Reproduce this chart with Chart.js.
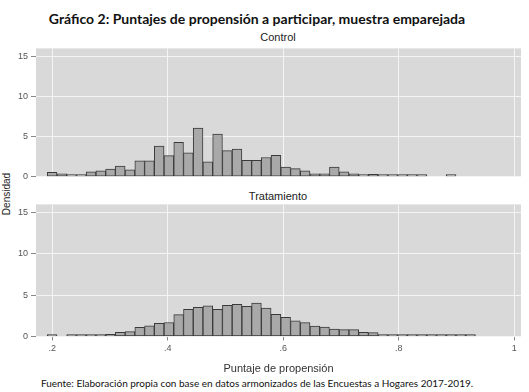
<!DOCTYPE html>
<html>
<head>
<meta charset="utf-8">
<script src="https://cdn.jsdelivr.net/npm/chart.js@4.4.0/dist/chart.umd.min.js"></script>
<style>
  body { margin: 0; background: #fff; width: 529px; height: 392px; position: relative; overflow: hidden; font-family: "Liberation Sans", Arial, sans-serif; }
  .txt { position: absolute; white-space: nowrap; transform: translate(-50%, -50%); }
  #title { left: 257px; top: 18px; font: bold 14px Lato, sans-serif; color: #111; }
  .panel { font-size: 11px; color: #222; }
  #ylab { left: 6px; top: 194px; font-size: 10px; color: #222; transform: translate(-50%, -50%) rotate(-90deg); }
  #note { left: 257px; top: 383px; font: 10px Lato, sans-serif; color: #111; }
  canvas { position: absolute; left: 0; }
</style>
</head>
<body>
<div id="title" class="txt">Gráfico 2: Puntajes de propensión a participar, muestra emparejada</div>
<div class="txt panel" style="left:278px; top:37px;">Control</div>
<div class="txt panel" style="left:278px; top:196px;">Tratamiento</div>
<div id="ylab" class="txt">Densidad</div>
<div id="note" class="txt">Fuente: Elaboración propia con base en datos armonizados de las Encuestas a Hogares 2017-2019.</div>
<div style="position:absolute; left:0; top:40px; width:529px; height:145px;"><canvas id="controlChart"></canvas></div>
<div style="position:absolute; left:0; top:196px; width:529px; height:182px;"><canvas id="treatChart"></canvas></div>
<script>
// histogram bins (left edge of first bin and bin width, propensity score units)
const binStart = 0.1913;
const binWidth = 0.01685;

const controlDensity = [0.52, 0.36, 0.04, 0.1, 0.6, 0.71, 0.95, 1.31, 0.83, 1.98, 1.98, 3.81, 2.62, 4.29, 2.98,
  6.07, 1.83, 5.32, 3.25, 3.45, 2.02, 2.02, 2.38, 2.66, 1.19, 0.99, 0.71, 0.36, 0.36, 1.19, 0.6, 0.36,
  0.12, 0.28, 0.2, 0.12, 0.16, 0.04, 0.04, 0, 0, 0.08, 0, 0];

const treatDensity = [0.03, 0, 0.02, 0.08, 0.15, 0.2, 0.25, 0.5, 0.6, 1.1, 1.3, 1.6, 1.7, 2.64, 3.3,
  3.54, 3.7, 3.3, 3.78, 3.9, 3.66, 4.06, 3.43, 2.68, 2.32, 1.89, 1.69, 1.26, 1.14, 0.91, 0.83, 0.83,
  0.51, 0.47, 0.16, 0.24, 0.16, 0.12, 0.08, 0.04, 0.02, 0.04, 0.04, 0.04];

const xTickValues = [0.2, 0.4, 0.6, 0.8, 1];
const yTickValues = [0, 5, 10, 15];

const plotBg = {
  id: "plotBg",
  beforeDraw(chart) {
    const { ctx, chartArea: a } = chart;
    ctx.save();
    ctx.fillStyle = "#d9d9d9";
    ctx.fillRect(a.left, a.top, a.right - a.left, a.bottom - a.top);
    ctx.restore();
  },
};

function toPoints(values) {
  return values.map((v, i) => ({ x: binStart + binWidth * (i + 0.5), y: v === 0 ? null : v }));
}

function makeChart(canvasId, values, showX) {
  const xTickFmt = (v) => (v === 1 ? "1" : v.toFixed(1).replace(/^0/, ""));
  const config = {
    type: "bar",
    data: {
      datasets: [
        {
          data: toPoints(values),
          backgroundColor: "#a9a9a9",
          borderColor: "#3a3a3a",
          borderWidth: 1,
          borderSkipped: false,
          barPercentage: 1,
          categoryPercentage: 1,
          minBarLength: 2,
        },
      ],
    },
    options: {
      animation: false,
      responsive: true,
      maintainAspectRatio: false,
      layout: { padding: { top: showX ? 7 : 6, right: 8, left: 0, bottom: 0 } },
      plugins: { legend: { display: false }, tooltip: { enabled: false } },
      scales: {
        x: {
          type: "linear",
          min: 0.1718,
          max: 1.0116,
          offset: false,
          afterBuildTicks: (s) => { s.ticks = xTickValues.map((v) => ({ value: v })); },
          afterFit: (s) => { s.height = showX ? 41.5 : 5; },
          grid: { offset: false, color: "#f4f4f4", lineWidth: 1, drawTicks: showX, tickLength: 4, tickColor: "#888" },
          border: { display: false },
          ticks: {
            display: showX,
            callback: xTickFmt,
            padding: 3,
            color: "#555",
            font: { family: "Liberation Sans", size: 9 },
            maxRotation: 0,
          },
          title: {
            display: showX,
            text: "Puntaje de propensión",
            color: "#333",
            font: { family: "Liberation Sans", size: 11 },
            padding: { top: 0, bottom: 2 },
          },
        },
        y: {
          min: 0,
          max: 16,
          afterBuildTicks: (s) => { s.ticks = yTickValues.map((v) => ({ value: v })); },
          afterFit: (s) => { s.width = 36; },
          grid: { color: "#f4f4f4", lineWidth: 1, tickLength: 5, tickColor: "#888" },
          border: { display: false },
          ticks: { padding: 3, color: "#555", font: { family: "Liberation Sans", size: 9 } },
        },
      },
    },
    plugins: [plotBg],
  };
  return new Chart(document.getElementById(canvasId), config);
}

makeChart("controlChart", controlDensity, false);
makeChart("treatChart", treatDensity, true);
</script>
</body>
</html>
